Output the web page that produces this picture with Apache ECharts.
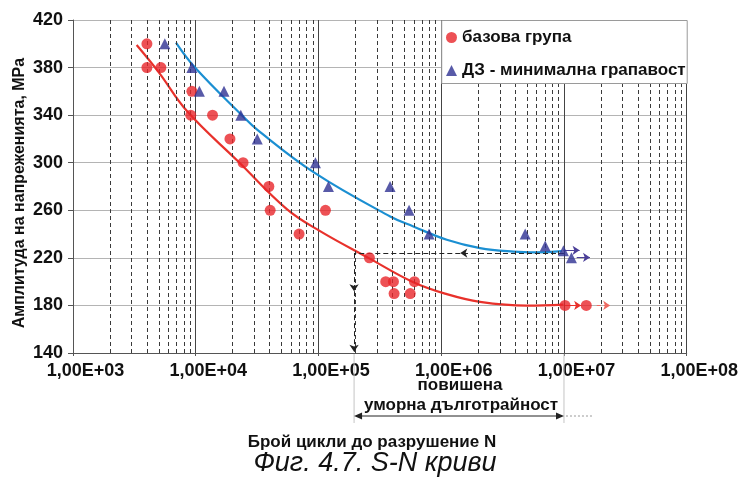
<!DOCTYPE html>
<html><head><meta charset="utf-8">
<script src="https://cdn.jsdelivr.net/npm/echarts@6/dist/echarts.min.js"></script>
<style>html,body{margin:0;padding:0;background:#fff}#c{width:741px;height:479px}</style>
</head><body><div id="c"></div>
<script>
// ---- data ----
const xTickLabels = ['1,00E+03', '1,00E+04', '1,00E+05', '1,00E+06', '1,00E+07', '1,00E+08'];
const seriesNames = ['базова група', 'ДЗ - минимална грапавост'];

const baseN = [4000, 4000, 5200, 9300, 9100, 13700, 19000, 24300, 39400, 40400, 69500, 114000, 260000, 353000, 408000, 413000, 559000, 605000, 10200000, 15200000];
const baseS = [400, 380, 380, 360, 340, 340, 320, 300, 280, 260, 240, 260, 220, 200, 200, 190, 190, 200, 180, 180];

const dzN = [5600, 9300, 10700, 17000, 23300, 31700, 94400, 120500, 383000, 547000, 796000, 4830000, 7030000, 9900000, 11500000];
const dzS = [400, 380, 360, 360, 340, 320, 300, 280, 280, 260, 240, 240, 230, 226, 220];

const baseCurveN = [3300, 5000, 8550, 22200, 55200, 103000, 255000, 593000, 1110000, 2070000, 4990000, 9900000];
const baseCurveS = [399, 376, 343, 301, 261, 242.5, 220, 199.5, 189.5, 183, 179.8, 180.6];

const dzCurveN = [6900, 9860, 23700, 31800, 93800, 384000, 593000, 1110000, 2070000, 3880000, 6000000, 9600000];
const dzCurveS = [401, 380, 340, 327.6, 291.2, 254.8, 246.4, 235.2, 228.2, 225.2, 224.6, 225.6];

// annotation values
const enduranceS = 224;        // horizontal dashed line level
const enduranceN = 195000;     // vertical dashed line position
const limitN = 10000000;       // end of the horizontal dashed line
const leftArrowN = 1430000;    // arrow on horizontal dashed line
const downArrowS = 192;        // first arrow on vertical dashed line
const dzArrows = [[9900000, 13400000, 226.3], [12700000, 16300000, 220.4]];
const baseArrow = [10200000, 13800000, 180];
const baseArrowDashed = [18500000, 23800000, 180];
const extLineEndN = 17000000;  // dotted continuation below axis

const minorMult = [2, 3, 4, 5, 6, 7, 8, 9];
const decades = [1e3, 1e4, 1e5, 1e6, 1e7];

// ----
const FONT = "'Liberation Sans', Arial, sans-serif";
const minorGridN = [];
decades.forEach(d => minorMult.forEach(m => minorGridN.push(m * d)));
const pairs = (a, b) => a.map((v, i) => [v, b[i]]);

const chart = echarts.init(document.getElementById('c'), null, {renderer: 'canvas'});

function seg(x1, y1, x2, y2, color, type, arrow) {
  return [{coord: [x1, y1], symbol: 'none', lineStyle: {color: color, type: type, width: 1}},
          {coord: [x2, y2], symbol: arrow ? 'arrow' : 'none', symbolSize: 7}];
}

const option = {
  animation: false,
  backgroundColor: '#fff',
  grid: {left: 73, top: 20, right: 54, bottom: 126, containLabel: false},
  xAxis: {
    type: 'log', logBase: 10, min: 1000, max: 100000000,
    axisLine: {show: true, lineStyle: {color: '#555', width: 1}},
    axisTick: {show: true, length: 3, lineStyle: {color: '#555'}},
    splitLine: {show: true, lineStyle: {color: '#444', width: 1}},
    minorTick: {show: false}, minorSplitLine: {show: false},
    axisLabel: {
      fontFamily: FONT, fontSize: 18, fontWeight: 'bold', color: '#111', margin: 9,
      padding: [0, 0, 0, 25],
      formatter: v => xTickLabels[Math.round(Math.log10(v)) - 3]
    }
  },
  yAxis: {
    type: 'value', min: 140, max: 420, interval: 40,
    axisLine: {show: true, lineStyle: {color: '#555', width: 1}},
    axisTick: {show: true, length: 5, lineStyle: {color: '#555'}},
    splitLine: {show: true, lineStyle: {color: '#b4b4b4', width: 1}},
    axisLabel: {fontFamily: FONT, fontSize: 18, fontWeight: 'bold', color: '#111', margin: 10}
  },
  legend: {
    data: seriesNames, orient: 'vertical', left: 446, top: 29,
    itemWidth: 11, itemHeight: 11, itemGap: 16, padding: 0, z: 10,
    textStyle: {fontFamily: FONT, fontSize: 17, fontWeight: 'bold', color: '#111', lineHeight: 17}
  },
  series: [
    {
      type: 'line', name: 'grid', data: [[1000, 140]], showSymbol: false, silent: true, z: 1,
      lineStyle: {width: 0},
      markLine: {
        silent: true, symbol: 'none', animation: false, label: {show: false},
        lineStyle: {color: '#3a3a3a', type: [4, 3], width: 1},
        data: minorGridN.map(v => ({xAxis: v}))
      }
    },
    {
      type: 'line', name: 'baseCurve', data: pairs(baseCurveN, baseCurveS), showSymbol: false,
      smooth: 0.4, z: 3, lineStyle: {color: '#e8312b', width: 2.2}, silent: true
    },
    {
      type: 'line', name: 'dzCurve', data: pairs(dzCurveN, dzCurveS), showSymbol: false,
      smooth: 0.4, z: 3, lineStyle: {color: '#1b8fd2', width: 2.2}, silent: true,
      markLine: {
        silent: true, animation: false, label: {show: false}, symbolSize: 7,
        data: [
          seg(limitN, enduranceS, leftArrowN, enduranceS, '#222', [5, 3], true),
          seg(leftArrowN, enduranceS, enduranceN, enduranceS, '#222', [5, 3], false),
          seg(enduranceN, enduranceS, enduranceN, downArrowS, '#222', [5, 3], true),
          seg(enduranceN, downArrowS, enduranceN, 141, '#222', [5, 3], true),
          seg(dzArrows[0][0], dzArrows[0][2], dzArrows[0][1], dzArrows[0][2], '#4b3f98', 'solid', true),
          seg(dzArrows[1][0], dzArrows[1][2], dzArrows[1][1], dzArrows[1][2], '#4b3f98', 'solid', true),
          seg(baseArrow[0], baseArrow[2], baseArrow[1], baseArrow[2], '#e8312b', 'solid', true),
          seg(baseArrowDashed[0], baseArrowDashed[2], baseArrowDashed[1], baseArrowDashed[2], '#ee6a62', [4, 3], true)
        ]
      }
    },
    {
      type: 'scatter', name: seriesNames[0], data: pairs(baseN, baseS), symbol: 'circle',
      symbolSize: 11, z: 5, itemStyle: {color: '#e8262a'}
    },
    {
      type: 'scatter', name: seriesNames[1], data: pairs(dzN, dzS), symbol: 'triangle',
      symbolSize: 11, z: 5, itemStyle: {color: '#2e3192'}
    }
  ]
};
chart.setOption(option);

const xa = chart.convertToPixel({xAxisIndex: 0}, enduranceN);
const xb = chart.convertToPixel({xAxisIndex: 0}, limitN);
const xc = chart.convertToPixel({xAxisIndex: 0}, extLineEndN);
const x8 = chart.convertToPixel({xAxisIndex: 0}, 100000000);
const yTop = chart.convertToPixel({yAxisIndex: 0}, 420);
const yBot = chart.convertToPixel({yAxisIndex: 0}, 140);
const lx0 = chart.convertToPixel({xAxisIndex: 0}, 1000000);
const arrowY = yBot + 63;
const mid = (xa + xb) / 2;

chart.setOption({
  graphic: [
    {type: 'rect', z: 8, shape: {x: lx0 + 0.5, y: yTop + 0.5, width: x8 - lx0, height: 63},
     style: {fill: '#fff', stroke: '#9a9a9a', lineWidth: 1}},
    {type: 'text', z: 9, x: 20, y: 193, rotation: Math.PI / 2,
     style: {text: 'Амплитуда на напреженията, MPa', font: "bold 16px " + FONT, fill: '#111', align: 'center', verticalAlign: 'middle'}},
    {type: 'text', z: 9, x: 372, y: 442,
     style: {text: 'Брой цикли до разрушение N', font: "bold 17px " + FONT, fill: '#111', align: 'center', verticalAlign: 'middle'}},
    {type: 'text', z: 9, x: 375, y: 463,
     style: {text: 'Фиг. 4.7. S-N криви', font: "italic 27px " + FONT, fill: '#111', align: 'center', verticalAlign: 'middle'}},
    {type: 'text', z: 9, x: mid + 1, y: 385,
     style: {text: 'повишена', font: "bold 17px " + FONT, fill: '#111', align: 'center', verticalAlign: 'middle'}},
    {type: 'text', z: 9, x: mid + 2, y: 405,
     style: {text: 'уморна дълготрайност', font: "bold 17px " + FONT, fill: '#111', align: 'center', verticalAlign: 'middle'}},
    {type: 'line', z: 9, shape: {x1: xa, y1: yBot + 1, x2: xa, y2: yBot + 70}, style: {stroke: '#c4c4c4', lineWidth: 1}},
    {type: 'line', z: 9, shape: {x1: xb, y1: yBot + 1, x2: xb, y2: yBot + 70}, style: {stroke: '#c4c4c4', lineWidth: 1}},
    {type: 'line', z: 9, shape: {x1: xa + 2, y1: arrowY, x2: xb - 2, y2: arrowY}, style: {stroke: '#222', lineWidth: 1}},
    {type: 'polygon', z: 9, shape: {points: [[xa, arrowY], [xa + 8, arrowY - 3.5], [xa + 8, arrowY + 3.5]]}, style: {fill: '#222'}},
    {type: 'polygon', z: 9, shape: {points: [[xb, arrowY], [xb - 8, arrowY - 3.5], [xb - 8, arrowY + 3.5]]}, style: {fill: '#222'}},
    {type: 'line', z: 9, shape: {x1: xb + 2, y1: arrowY, x2: xc, y2: arrowY}, style: {stroke: '#999', lineWidth: 1, lineDash: [2, 2]}}
  ]
});
</script></body></html>
